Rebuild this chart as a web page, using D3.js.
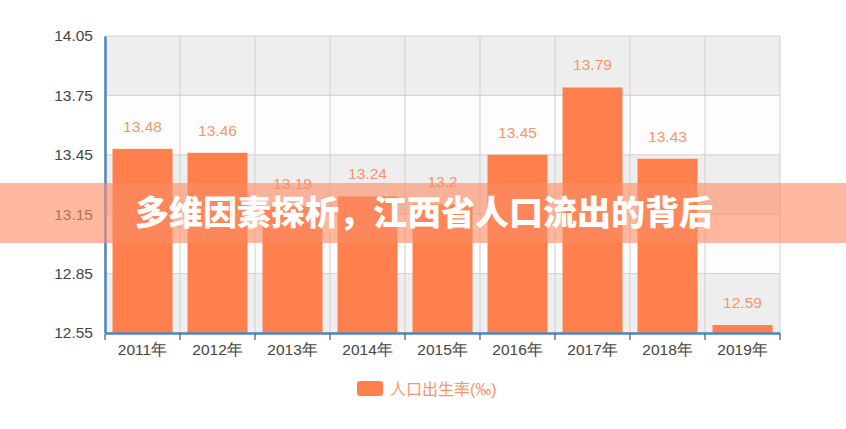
<!DOCTYPE html>
<html>
<head>
<meta charset="utf-8">
<script src="https://cdn.jsdelivr.net/npm/d3@7"></script>
<style>
  body { margin: 0; background: #fff; }
  svg { display: block; font-family: "Liberation Sans", "Noto Sans CJK SC", sans-serif; }
</style>
</head>
<body>
<div id="chart"></div>
<script>
// chart data
const years = ["2011年", "2012年", "2013年", "2014年", "2015年", "2016年", "2017年", "2018年", "2019年"];
const birthRate = [13.48, 13.46, 13.19, 13.24, 13.2, 13.45, 13.79, 13.43, 12.59];
const yTicks = [12.55, 12.85, 13.15, 13.45, 13.75, 14.05];
const seriesName = "人口出生率(‰)";
const headline = "多维因素探析，江西省人口流出的背后";

const W = 846, H = 429;
const margin = {top: 36, right: 66, bottom: 96, left: 105};
const width = W - margin.left - margin.right,
      height = H - margin.top - margin.bottom;

const svg = d3.select("#chart").append("svg")
    .attr("width", W)
    .attr("height", H);

const g = svg.append("g")
    .attr("transform", `translate(${margin.left}, ${margin.top})`);

const xScale = d3.scaleBand()
  .domain(years)
  .range([0, width])
  .paddingInner(0.2)
  .paddingOuter(0.1);

const yScale = d3.scaleLinear()
  .domain([yTicks[0], yTicks[yTicks.length - 1]])
  .range([height, 0]);

// alternating background bands
const bands = d3.pairs(yTicks);
g.selectAll(".band")
  .data(bands)
  .enter()
  .append("rect")
    .attr("x", 0)
    .attr("width", width)
    .attr("y", d => yScale(d[1]))
    .attr("height", d => yScale(d[0]) - yScale(d[1]))
    .attr("fill", (d, i) => i % 2 === 0 ? "#eeeeee" : "#fdfdfd");

// horizontal grid
g.selectAll(".hgrid")
  .data(yTicks)
  .enter()
  .append("line")
    .attr("x1", 0).attr("x2", width)
    .attr("y1", d => yScale(d)).attr("y2", d => yScale(d))
    .attr("stroke", "#d0d0d0");

// vertical grid at category boundaries
const step = xScale.step();
const bounds = d3.range(years.length + 1).map(i => i * step);
g.selectAll(".vgrid")
  .data(bounds)
  .enter()
  .append("line")
    .attr("x1", d => d).attr("x2", d => d)
    .attr("y1", 0).attr("y2", height)
    .attr("stroke", "#d0d0d0");

// bars
g.selectAll(".bar")
  .data(birthRate)
  .enter()
  .append("rect")
    .attr("x", (d, i) => xScale(years[i]))
    .attr("width", xScale.bandwidth())
    .attr("y", d => yScale(d))
    .attr("height", d => height - yScale(d))
    .attr("fill", "#ff7f4d");

// value labels
g.selectAll(".label")
  .data(birthRate)
  .enter()
  .append("text")
    .attr("x", (d, i) => xScale(years[i]) + xScale.bandwidth() / 2)
    .attr("y", d => yScale(d) - 17)
    .attr("text-anchor", "middle")
    .attr("font-size", 15.5)
    .attr("fill", "#f7956b")
    .text(d => d);

// y axis
const yAxis = g.append("g")
  .call(d3.axisLeft(yScale).tickValues(yTicks).tickFormat(d3.format(".2f")).tickSize(0).tickPadding(12));
yAxis.select(".domain").attr("stroke", "#4f86bd").attr("stroke-width", 2.5);
yAxis.selectAll("text").attr("font-size", 15.5).attr("fill", "#444");

// x axis
const xAxis = g.append("g")
  .attr("transform", `translate(0, ${height})`)
  .call(d3.axisBottom(xScale).tickSize(0).tickPadding(11));
xAxis.select(".domain").attr("stroke", "#4f86bd").attr("stroke-width", 2.5);
xAxis.selectAll("text").attr("font-size", 15.5).attr("fill", "#444");
xAxis.selectAll(".bticks")
  .data(bounds)
  .enter()
  .append("line")
    .attr("x1", d => d).attr("x2", d => d)
    .attr("y1", 1).attr("y2", 7)
    .attr("stroke", "#333");

// legend
const legend = svg.append("g")
  .attr("transform", "translate(357, 381)");
legend.append("rect")
  .attr("width", 26).attr("height", 15)
  .attr("rx", 3)
  .attr("fill", "#ff7f4d");
legend.append("text")
  .attr("x", 33).attr("y", 13.5)
  .attr("font-size", 16)
  .attr("fill", "#f7956b")
  .text(seriesName);

// headline banner
svg.append("rect")
  .attr("x", 0).attr("y", 183)
  .attr("width", W).attr("height", 60)
  .attr("fill", "rgba(252, 140, 100, 0.62)");
svg.append("text")
  .attr("x", 424)
  .attr("y", 225)
  .attr("text-anchor", "middle")
  .attr("font-family", "Noto Sans CJK SC")
  .attr("font-weight", 900)
  .attr("font-size", 34)
  .attr("fill", "#fff")
  .text(headline);
</script>
</body>
</html>
